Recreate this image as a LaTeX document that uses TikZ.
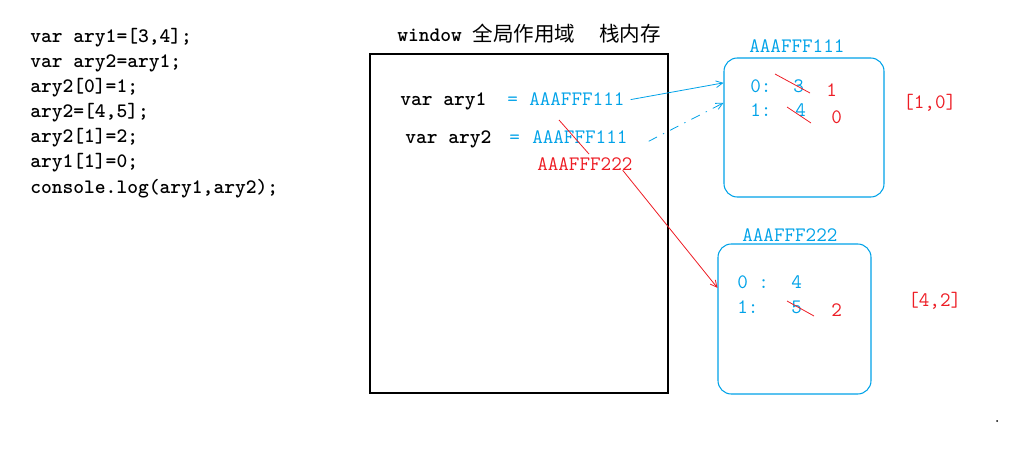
\documentclass[tikz,border=0pt]{standalone}
\usepackage{fontspec}
\newfontfamily\cjk{Noto Sans CJK SC}
\usetikzlibrary{fit,arrows.meta}
\definecolor{memblue}{RGB}{0,162,232}
\definecolor{memred}{RGB}{237,28,36}
\tikzset{
  txt/.style={anchor=base west,inner sep=0pt,font=\fontsize{15.4}{18}\ttfamily},
  code/.style={txt,font=\fontsize{15.4}{18}\ttfamily\bfseries},
  heapbox/.style={draw=memblue,line width=0.8pt,rounded corners=10pt,inner sep=0pt},
  strike/.style={memred,line width=0.6pt},
  link/.style={line width=0.6pt,->}
}
\begin{document}
\begin{tikzpicture}[x=0.75pt,y=-0.75pt,>={Straight Barb[length=5pt,width=5pt]}]
  \useasboundingbox (0,0) rectangle (1013,456);
  %
  % Source code
  \foreach \codeline [count=\i] in {{var ary1=[3,4];},{var ary2=ary1;},
      {ary2[0]=1;},{ary2=[4,5];},{ary2[1]=2;},{ary1[1]=0;},
      {console.log(ary1,ary2);}}
    \node[code] (c\i) at (30,{18+25*\i}) {\codeline};
  %
  % Stack (global scope)
  \node[code] (title) at (397,42) {window {\cjk\mdseries 全局作用域}\hspace{18pt}{\cjk\mdseries 栈内存}};
  \node[draw,line width=0.9pt,inner sep=0pt,fit={(370,54) (668,393)}] (stack) {};
  \node[code] (var1) at (400,106) {var ary1};
  \node[txt,memblue] (eq1) at (507,106) {=};
  \node[txt,memblue] (ref1) at (529,106) {AAAFFF111};
  \node[code] (var2) at (405,144) {var ary2};
  \node[txt,memblue] (eq2) at (509,144) {=};
  \node[txt,memblue] (ref2) at (532,144) {AAAFFF111};
  \node[txt,memred] (new2) at (537,171) {AAAFFF222};
  \draw[strike] (559,120) -- (589,154);
  %
  % Heap object 1
  \node[heapbox,fit={(724,58) (884,197)}] (heap1) {};
  \node[txt,memblue] (addr1) at (749,53) {AAAFFF111};
  \node[txt,memblue] (k10) at (750,93) {0:};
  \node[txt,memblue] (v10) at (793,93) {3};
  \node[txt,memred] (n10) at (826,97) {1};
  \node[txt,memblue] (k11) at (750,117) {1:};
  \node[txt,memblue] (v11) at (795,117) {4};
  \node[txt,memred] (n11) at (831,124) {0};
  \draw[strike] (775,74) -- (810,93);
  \draw[strike] (787,107) -- (811,123);
  \node[txt,memred] (res1) at (903,109) {[1,0]};
  %
  % Heap object 2
  \node[heapbox,fit={(718,244) (871,394)}] (heap2) {};
  \node[txt,memblue] (addr2) at (742,241) {AAAFFF222};
  \node[txt,memblue] (k20) at (737,288) {0 :};
  \node[txt,memblue] (v20) at (791,288) {4};
  \node[txt,memblue] (k21) at (737,313) {1:};
  \node[txt,memblue] (v21) at (791,313) {5};
  \node[txt,memred] (n21) at (831,316) {2};
  \draw[strike] (787,301) -- (814,316);
  \node[txt,memred] (res2) at (908,306) {[4,2]};
  %
  % References
  \draw[link,memblue] ([xshift=4.5pt]ref1.east) -- (heap1.151);
  \draw[link,memblue,dash pattern=on 7pt off 5pt on 1pt off 5pt]
    ([shift={(21,-3)}]ref2.south east) -- (heap1.163);
  \draw[link,memred] ([shift={(-10,-1)}]new2.south east) -- (heap2.158);
  %
  \fill (997,421) circle (1);
\end{tikzpicture}
\end{document}
